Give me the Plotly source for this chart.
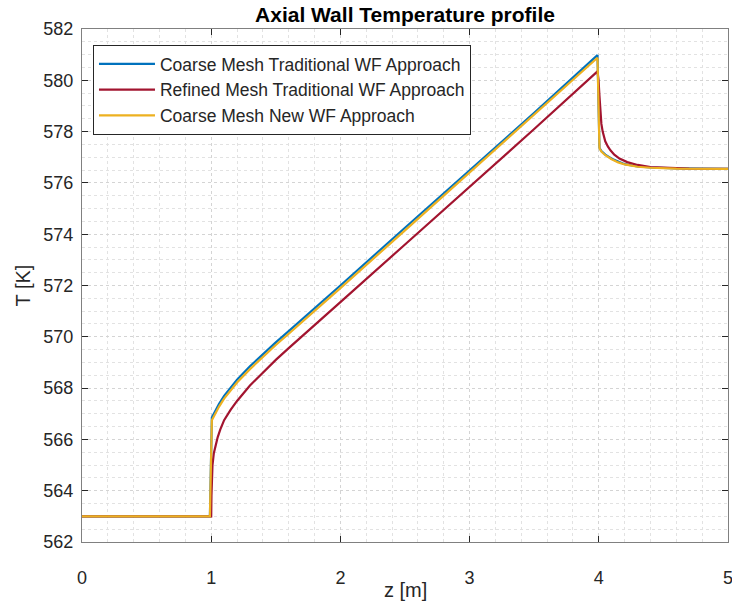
import plotly.graph_objects as go

# ---- data ----
z_coarse_trad = [0.0, 0.99, 1.005, 1.03, 1.06, 1.1, 1.15, 1.2, 1.3, 1.4, 1.5, 1.6, 1.7,
                 2.0, 2.5, 3.0, 3.5, 3.99, 4.005, 4.02, 4.05, 4.1, 4.15, 4.2, 4.3, 4.4,
                 4.6, 5.0]
T_coarse_trad = [563.0, 563.0, 566.85, 567.1, 567.38, 567.7, 568.03, 568.33, 568.85,
                 569.33, 569.78, 570.22, 570.66, 572.0, 574.25, 576.49, 578.73, 580.98,
                 577.37, 577.24, 577.1, 576.94, 576.82, 576.73, 576.64, 576.6, 576.57,
                 576.55]

z_refined_trad = [0.0, 1.0, 1.002, 1.005, 1.01, 1.02, 1.035, 1.05, 1.07, 1.1, 1.15, 1.2,
                  1.3, 1.4, 1.5, 1.6, 1.7, 2.0, 2.5, 3.0, 3.5, 3.99, 3.998, 4.005, 4.012,
                  4.02, 4.03, 4.05, 4.07, 4.09, 4.12, 4.16, 4.22, 4.3, 4.4, 4.55, 4.7, 5.0]
T_refined_trad = [563.0, 563.0, 563.8, 564.5, 565.0, 565.45, 565.8, 566.08, 566.38,
                  566.75, 567.15, 567.5, 568.1, 568.62, 569.1, 569.56, 570.0, 571.35,
                  573.6, 575.85, 578.1, 580.35, 580.0, 579.4, 578.8, 578.3, 578.0, 577.62,
                  577.42, 577.27, 577.1, 576.95, 576.81, 576.7, 576.62, 576.58, 576.56,
                  576.55]

z_coarse_new = [0.0, 0.99, 1.005, 1.03, 1.06, 1.1, 1.15, 1.2, 1.3, 1.4, 1.5, 1.6, 1.7,
                2.0, 2.5, 3.0, 3.5, 3.99, 4.005, 4.02, 4.05, 4.1, 4.15, 4.2, 4.3, 4.4,
                4.6, 5.0]
T_coarse_new = [563.0, 563.0, 566.75, 567.0, 567.27, 567.59, 567.92, 568.22, 568.74,
                569.22, 569.68, 570.12, 570.56, 571.9, 574.15, 576.4, 578.64, 580.88,
                577.35, 577.22, 577.08, 576.92, 576.8, 576.72, 576.63, 576.59, 576.56,
                576.55]

names = ["Coarse Mesh Traditional WF Approach",
         "Refined Mesh Traditional WF Approach",
         "Coarse Mesh New WF Approach"]
colors = ["#0072BD", "#A2142F", "#EDB120"]

FONT = "Liberation Sans, Arial, sans-serif"
AX = "#262626"

fig = go.Figure()
for zs, Ts, nm, c in zip([z_coarse_trad, z_refined_trad, z_coarse_new],
                         [T_coarse_trad, T_refined_trad, T_coarse_new], names, colors):
    fig.add_trace(go.Scatter(x=zs, y=Ts, mode="lines", name=nm,
                             line=dict(color=c, width=2.2)))

axis_common = dict(
    showline=True, linecolor="#808080", linewidth=1, mirror="ticks",
    ticks="inside", ticklen=6, tickcolor=AX, tickwidth=1,
    showgrid=True, gridcolor="#d4d4d4", griddash="dot", gridwidth=1,
    zeroline=False, tickfont=dict(family=FONT, size=18, color=AX),
    ticklabeloverflow="allow",
)

fig.update_xaxes(range=[0, 5], dtick=1, tick0=0, ticklabelstandoff=19,
                 minor=dict(dtick=0.2, showgrid=True, griddash="dot",
                            gridcolor="#e2e2e2", ticks=""),
                 **axis_common)
fig.update_yaxes(range=[562, 582], dtick=2, tick0=562, ticklabelstandoff=4,
                 title=dict(text="T [K]", font=dict(family=FONT, size=20, color=AX),
                            standoff=7),
                 minor=dict(dtick=0.5, showgrid=True, griddash="dot",
                            gridcolor="#e2e2e2", ticks=""),
                 **axis_common)

# x-axis title placed as an annotation to match the reference position
fig.add_annotation(text="z [m]", xref="paper", yref="paper", x=0.5, y=-0.094,
                   xanchor="center", yanchor="middle", showarrow=False,
                   font=dict(family=FONT, size=20, color=AX))

fig.update_layout(
    width=732, height=605,
    margin=dict(l=82, r=4, t=29, b=63, autoexpand=False),
    paper_bgcolor="white", plot_bgcolor="white",
    title=dict(text="<b>Axial Wall Temperature profile</b>", x=0.5, xref="paper",
               xanchor="center", y=0.975, yref="container", yanchor="middle",
               font=dict(family=FONT, size=21, color="#000000")),
    legend=dict(x=0.017, y=0.969, xanchor="left", yanchor="top",
                bgcolor="white", bordercolor=AX, borderwidth=1,
                font=dict(family=FONT, size=17.5, color=AX),
                tracegroupgap=0, itemwidth=56),
    showlegend=True,
)

fig.write_html("out.html")
